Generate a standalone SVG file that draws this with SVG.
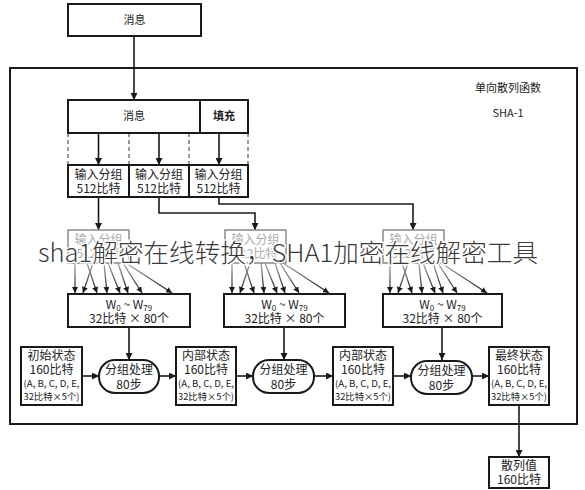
<svg xmlns="http://www.w3.org/2000/svg" width="585" height="490" viewBox="0 0 585 490">
<style>
text{font-family:"Noto Sans CJK SC","Liberation Sans",sans-serif;fill:#222;text-anchor:middle}
.t12{font-size:12px}
.t11{font-size:11px}
.sm{font-size:9.5px}
.box{fill:#fff;stroke:#1a1a1a;stroke-width:2}
.fbox{fill:#fff;stroke:#8a8a8a;stroke-width:1.5}
.ft{fill:#aaa;font-size:12px}
.ln{stroke:#1a1a1a;stroke-width:1.6;fill:none}
.dash{stroke:#333;stroke-width:1;stroke-dasharray:4 3}
.fan{stroke:url(#fg);stroke-width:1.3;fill:none}
.wm{font-family:"Noto Sans CJK SC",sans-serif;font-size:25px;font-weight:300;fill:#3a3a3a;stroke:#fff;stroke-width:3;paint-order:stroke;stroke-linejoin:round;text-anchor:start}
</style>
<defs>
<marker id="ah" viewBox="0 0 10 10" refX="10" refY="5" markerWidth="7" markerHeight="7" markerUnits="userSpaceOnUse" orient="auto">
<path d="M0,0 L10,5 L0,10 z" fill="#1a1a1a"/>
</marker>
<marker id="ah2" viewBox="0 0 10 10" refX="10" refY="5" markerWidth="6" markerHeight="6" markerUnits="userSpaceOnUse" orient="auto">
<path d="M0,0 L10,5 L0,10 z" fill="#1a1a1a"/>
</marker>
<linearGradient id="fg" gradientUnits="userSpaceOnUse" x1="0" y1="263" x2="0" y2="293">
<stop offset="0" stop-color="#aaa"/>
<stop offset="1" stop-color="#1a1a1a"/>
</linearGradient>
</defs>
<rect width="585" height="490" fill="#fff"/>

<g id="frame">
<rect x="10" y="68" width="567" height="356" fill="none" stroke="#1a1a1a" stroke-width="2"/>
<text class="t11" x="508" y="92">单向散列函数</text>
<text class="t11" x="508" y="117">SHA-1</text>
</g>

<g id="connectors">
<line class="ln" x1="134" y1="36" x2="134" y2="100" marker-end="url(#ah)"/>
<line class="dash" x1="68" y1="133" x2="68" y2="165"/>
<line class="dash" x1="129" y1="133" x2="129" y2="165"/>
<line class="dash" x1="189" y1="133" x2="189" y2="165"/>
<line class="dash" x1="248" y1="133" x2="248" y2="165"/>
<line class="ln" x1="98.5" y1="133" x2="98.5" y2="165" marker-end="url(#ah)"/>
<line class="ln" x1="159" y1="133" x2="159" y2="165" marker-end="url(#ah)"/>
<line class="ln" x1="219" y1="133" x2="219" y2="165" marker-end="url(#ah)"/>
<line class="ln" x1="98.5" y1="197" x2="98.5" y2="230" marker-end="url(#ah)"/>
<polyline class="ln" points="159,197 159,213 255,213 255,230" marker-end="url(#ah)"/>
<polyline class="ln" points="219,197 219,204 413,204 413,230" marker-end="url(#ah)"/>
<g id="fan1" transform="translate(68,0)">
<line class="fan" x1="7" y1="263" x2="7" y2="293" marker-end="url(#ah2)"/>
<line class="fan" x1="25" y1="263" x2="15" y2="293" marker-end="url(#ah2)"/>
<line class="fan" x1="19" y1="263" x2="29" y2="293" marker-end="url(#ah2)"/>
<line class="fan" x1="36" y1="263" x2="39" y2="293" marker-end="url(#ah2)"/>
<line class="fan" x1="40" y1="263" x2="52" y2="293" marker-end="url(#ah2)"/>
<line class="fan" x1="50" y1="263" x2="60" y2="293" marker-end="url(#ah2)"/>
<line class="fan" x1="55" y1="263" x2="74" y2="293" marker-end="url(#ah2)"/>
<line class="fan" x1="58" y1="263" x2="104" y2="293" marker-end="url(#ah2)"/>
</g>
<g id="fan2" transform="translate(225,0)">
<line class="fan" x1="7" y1="263" x2="7" y2="293" marker-end="url(#ah2)"/>
<line class="fan" x1="25" y1="263" x2="15" y2="293" marker-end="url(#ah2)"/>
<line class="fan" x1="19" y1="263" x2="29" y2="293" marker-end="url(#ah2)"/>
<line class="fan" x1="36" y1="263" x2="39" y2="293" marker-end="url(#ah2)"/>
<line class="fan" x1="40" y1="263" x2="52" y2="293" marker-end="url(#ah2)"/>
<line class="fan" x1="50" y1="263" x2="60" y2="293" marker-end="url(#ah2)"/>
<line class="fan" x1="55" y1="263" x2="74" y2="293" marker-end="url(#ah2)"/>
<line class="fan" x1="58" y1="263" x2="104" y2="293" marker-end="url(#ah2)"/>
</g>
<g id="fan3" transform="translate(383,0)">
<line class="fan" x1="7" y1="263" x2="7" y2="293" marker-end="url(#ah2)"/>
<line class="fan" x1="25" y1="263" x2="15" y2="293" marker-end="url(#ah2)"/>
<line class="fan" x1="19" y1="263" x2="29" y2="293" marker-end="url(#ah2)"/>
<line class="fan" x1="36" y1="263" x2="39" y2="293" marker-end="url(#ah2)"/>
<line class="fan" x1="40" y1="263" x2="52" y2="293" marker-end="url(#ah2)"/>
<line class="fan" x1="50" y1="263" x2="60" y2="293" marker-end="url(#ah2)"/>
<line class="fan" x1="55" y1="263" x2="74" y2="293" marker-end="url(#ah2)"/>
<line class="fan" x1="58" y1="263" x2="104" y2="293" marker-end="url(#ah2)"/>
</g>
<line class="ln" x1="129" y1="327" x2="129" y2="360" marker-end="url(#ah)"/>
<line class="ln" x1="284" y1="327" x2="284" y2="360" marker-end="url(#ah)"/>
<line class="ln" x1="442" y1="327" x2="442" y2="360" marker-end="url(#ah)"/>
<line class="ln" x1="82" y1="376" x2="99" y2="376" marker-end="url(#ah)"/>
<line class="ln" x1="159" y1="376" x2="176" y2="376" marker-end="url(#ah)"/>
<line class="ln" x1="236" y1="376" x2="253" y2="376" marker-end="url(#ah)"/>
<line class="ln" x1="314" y1="376" x2="333" y2="376" marker-end="url(#ah)"/>
<line class="ln" x1="393" y1="376" x2="411" y2="376" marker-end="url(#ah)"/>
<line class="ln" x1="472" y1="376" x2="489" y2="376" marker-end="url(#ah)"/>
<line class="ln" x1="519" y1="405" x2="519" y2="457" marker-end="url(#ah)"/>
</g>

<g id="msg-top">
<rect class="box" x="68" y="4" width="133" height="32"/>
<text class="t11" x="134.5" y="24">消息</text>
</g>

<g id="msg-row">
<rect class="box" x="68" y="100" width="132" height="33"/>
<text class="t11" x="134" y="120">消息</text>
</g>
<g id="padding">
<rect class="box" x="200" y="100" width="48" height="33"/>
<text class="t11" x="224" y="120" font-weight="bold">填充</text>
</g>

<g id="block1">
<rect class="box" x="68" y="165" width="61" height="32"/>
<text class="t12" x="98.5" y="179">输入分组</text>
<text class="t12" x="98.5" y="193">512比特</text>
</g>
<g id="block2">
<rect class="box" x="129" y="165" width="60" height="32"/>
<text class="t12" x="159" y="179">输入分组</text>
<text class="t12" x="159" y="193">512比特</text>
</g>
<g id="block3">
<rect class="box" x="189" y="165" width="59" height="32"/>
<text class="t12" x="218.5" y="179">输入分组</text>
<text class="t12" x="218.5" y="193">512比特</text>
</g>

<g id="fblock1">
<rect class="fbox" x="68" y="230" width="61" height="33"/>
<text class="ft" x="98.5" y="244">输入分组</text>
<text class="ft" x="98.5" y="258">512比特</text>
</g>
<g id="fblock2">
<rect class="fbox" x="225" y="230" width="61" height="33"/>
<text class="ft" x="255.5" y="244">输入分组</text>
<text class="ft" x="255.5" y="258">512比特</text>
</g>
<g id="fblock3">
<rect class="fbox" x="383" y="230" width="61" height="33"/>
<text class="ft" x="413.5" y="244">输入分组</text>
<text class="ft" x="413.5" y="258">512比特</text>
</g>

<g id="w1">
<rect class="box" x="68" y="294" width="122" height="33"/>
<text class="t12" x="129" y="309">W<tspan font-size="8" dy="2">0</tspan><tspan dy="-2"> ~ W</tspan><tspan font-size="8" dy="2">79</tspan></text>
<text class="t12" x="129" y="323">32比特 × 80个</text>
</g>
<g id="w2">
<rect class="box" x="224" y="294" width="121" height="33"/>
<text class="t12" x="284.5" y="309">W<tspan font-size="8" dy="2">0</tspan><tspan dy="-2"> ~ W</tspan><tspan font-size="8" dy="2">79</tspan></text>
<text class="t12" x="284.5" y="323">32比特 × 80个</text>
</g>
<g id="w3">
<rect class="box" x="383" y="294" width="119" height="33"/>
<text class="t12" x="442.5" y="309">W<tspan font-size="8" dy="2">0</tspan><tspan dy="-2"> ~ W</tspan><tspan font-size="8" dy="2">79</tspan></text>
<text class="t12" x="442.5" y="323">32比特 × 80个</text>
</g>

<g id="state0">
<rect class="box" x="21" y="347" width="61" height="58"/>
<text class="t12" x="51.5" y="360">初始状态</text>
<text class="t12" x="51.5" y="374">160比特</text>
<text class="sm" x="51.5" y="387" textLength="56" lengthAdjust="spacingAndGlyphs">(A, B, C, D, E,</text>
<text class="sm" x="51.5" y="400" textLength="56" lengthAdjust="spacingAndGlyphs">32比特×5个)</text>
</g>
<g id="proc1">
<rect class="box" x="99" y="360" width="60" height="33" rx="16" ry="16"/>
<text class="t12" x="129" y="374">分组处理</text>
<text class="t12" x="129" y="389">80步</text>
</g>
<g id="state1">
<rect class="box" x="176" y="347" width="60" height="58"/>
<text class="t12" x="206" y="360">内部状态</text>
<text class="t12" x="206" y="374">160比特</text>
<text class="sm" x="206" y="387" textLength="56" lengthAdjust="spacingAndGlyphs">(A, B, C, D, E,</text>
<text class="sm" x="206" y="400" textLength="56" lengthAdjust="spacingAndGlyphs">32比特×5个)</text>
</g>
<g id="proc2">
<rect class="box" x="253" y="360" width="61" height="33" rx="16" ry="16"/>
<text class="t12" x="283.5" y="374">分组处理</text>
<text class="t12" x="283.5" y="389">80步</text>
</g>
<g id="state2">
<rect class="box" x="333" y="347" width="60" height="58"/>
<text class="t12" x="363" y="360">内部状态</text>
<text class="t12" x="363" y="374">160比特</text>
<text class="sm" x="363" y="387" textLength="56" lengthAdjust="spacingAndGlyphs">(A, B, C, D, E,</text>
<text class="sm" x="363" y="400" textLength="56" lengthAdjust="spacingAndGlyphs">32比特×5个)</text>
</g>
<g id="proc3">
<rect class="box" x="411" y="361" width="61" height="33" rx="16" ry="16"/>
<text class="t12" x="441.5" y="375">分组处理</text>
<text class="t12" x="441.5" y="390">80步</text>
</g>
<g id="state3">
<rect class="box" x="489" y="347" width="60" height="58"/>
<text class="t12" x="519" y="360">最终状态</text>
<text class="t12" x="519" y="374">160比特</text>
<text class="sm" x="519" y="387" textLength="56" lengthAdjust="spacingAndGlyphs">(A, B, C, D, E,</text>
<text class="sm" x="519" y="400" textLength="56" lengthAdjust="spacingAndGlyphs">32比特×5个)</text>
</g>
<g id="hash">
<rect class="box" x="489" y="457" width="60" height="31"/>
<text class="t12" x="519" y="470">散列值</text>
<text class="t12" x="519" y="484">160比特</text>
</g>

<g id="watermark">
<text class="wm" x="38" y="262" textLength="500" lengthAdjust="spacingAndGlyphs">sha1解密在线转换，SHA1加密在线解密工具</text>
</g>
</svg>
